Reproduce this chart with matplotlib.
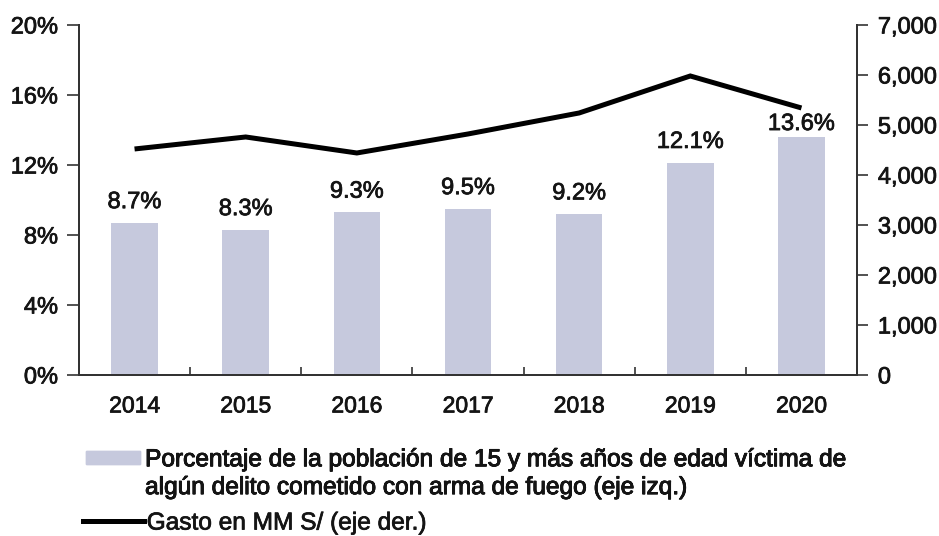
import matplotlib
matplotlib.use("Agg")
import matplotlib.pyplot as plt
import matplotlib.patheffects as pe
from matplotlib.patches import Patch
from matplotlib.lines import Line2D
from matplotlib.ticker import FuncFormatter

years = ["2014", "2015", "2016", "2017", "2018", "2019", "2020"]
victim_pct = [8.7, 8.3, 9.3, 9.5, 9.2, 12.1, 13.6]
spending = [4520, 4760, 4440, 4820, 5240, 5980, 5340]

bar_label = ["Porcentaje de la población de 15 y más años de edad víctima de",
             "algún delito cometido con arma de fuego (eje izq.)"]
line_label = "Gasto en MM S/ (eje der.)"

# vertical gap (points) between bar top and its label; last one squeezed under the line
label_gap = [10.5, 10.5, 10.5, 10.5, 10.5, 11, 5]

plt.rcParams["font.family"] = ["Liberation Sans", "DejaVu Sans"]
plt.rcParams["font.size"] = 17
txt = "#141414"
bar_color = "#c6c9dd"
heavy = [pe.withStroke(linewidth=0.55, foreground=txt)]

fig = plt.figure(figsize=(9.39, 5.36), dpi=100)
ax = fig.add_axes([0.0841, 0.3004, 0.8286, 0.653])
ax2 = ax.twinx()

x = list(range(len(years)))
ax.bar(x, victim_pct, width=0.42, color=bar_color, zorder=2)
for xi, v, g in zip(x, victim_pct, label_gap):
    ax.annotate(f"{v:.1f}%", (xi, v), xytext=(0, g), textcoords="offset points",
                ha="center", va="baseline", color=txt, fontsize=17, path_effects=heavy)

ax2.plot(x, spending, color="black", lw=3.6, solid_capstyle="butt",
         solid_joinstyle="miter", zorder=3)

ax.set_xlim(-0.5, len(years) - 0.5)
ax.set_ylim(0, 20)
ax.set_yticks([0, 4, 8, 12, 16, 20])
ax.yaxis.set_major_formatter(FuncFormatter(lambda v, p: f"{v:.0f}%"))
ax2.set_ylim(0, 7000)
ax2.set_yticks(range(0, 7001, 1000))
ax2.yaxis.set_major_formatter(FuncFormatter(lambda v, p: f"{v:,.0f}"))

ax.set_xticks(x)
ax.set_xticklabels(years)
ax.set_xticks([i + 0.5 for i in x[:-1]], minor=True)
ax.tick_params(axis="x", which="major", length=0, pad=14, colors=txt, labelsize=16.5)
ax.tick_params(axis="x", which="minor", direction="in", length=6, width=1.2, color="#333333")
ax.tick_params(axis="y", length=9, width=1.2, pad=6, colors="#333333", labelcolor=txt, labelsize=17)
ax2.tick_params(axis="y", length=8, width=1.2, pad=7, colors="#333333", labelcolor=txt, labelsize=17)

for lab in ax.get_xticklabels() + ax.get_yticklabels() + ax2.get_yticklabels():
    lab.set_path_effects(heavy)

for a in (ax, ax2):
    a.spines["top"].set_visible(False)
    for s in ("left", "right", "bottom"):
        a.spines[s].set_linewidth(1.4)
        a.spines[s].set_color("#333333")

# first legend: swatch next to the first text line only, second line has an empty handle
leg1 = fig.legend(handles=[Patch(color=bar_color), Patch(alpha=0)], labels=bar_label,
                  loc="upper left", bbox_to_anchor=(0.092, 0.162), frameon=False,
                  handlelength=2.2, handleheight=0.45, handletextpad=0.2,
                  fontsize=17.6, borderaxespad=0, borderpad=0, labelspacing=0.24)
leg2 = fig.legend(handles=[Line2D([0], [0], color="black", lw=3.6)], labels=[line_label],
                  loc="upper left", bbox_to_anchor=(0.088, 0.044), frameon=False,
                  handlelength=2.5, handletextpad=0.12, fontsize=17.6,
                  borderaxespad=0, borderpad=0)
for lg in (leg1, leg2):
    for t in lg.get_texts():
        t.set_color(txt)
        t.set_path_effects(heavy)
fig.add_artist(leg1)

fig.savefig("out.png", dpi=100)
